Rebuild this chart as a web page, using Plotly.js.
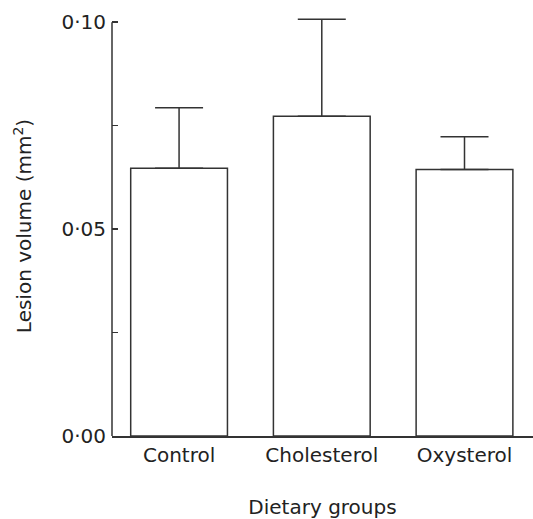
<!DOCTYPE html>
<html>
<head>
<meta charset="utf-8">
<script src="https://cdn.plot.ly/plotly-3.0.1.min.js"></script>
<style>html,body{margin:0;padding:0;background:#fff;}</style>
</head>
<body>
<div id="chart" style="width:533px;height:519px;"></div>
<script>
const categories = ["Control", "Cholesterol", "Oxysterol"];
const meanValues = [0.0647, 0.0773, 0.0644];
const semValues = [0.0146, 0.0234, 0.0079];
const yTickVals = [0, 0.025, 0.05, 0.075, 0.1];
const yTickText = ["0·00", "", "0·05", "", "0·10"];
const yAxisTop = 0.1;

const font = {family: "DejaVu Sans, Liberation Sans, Arial, sans-serif", size: 20, color: "#222"};

const trace = {
  type: "bar",
  x: categories,
  y: meanValues,
  width: 0.678,
  marker: {color: "#ffffff", line: {color: "#333", width: 1.5}},
  error_y: {type: "data", symmetric: false, array: semValues, arrayminus: semValues.map(() => 0),
            color: "#333", thickness: 1.5, width: 24},
  cliponaxis: false,
  hoverinfo: "none"
};

const layout = {
  width: 533, height: 519,
  margin: {l: 112, r: 0, t: 16, b: 83},
  paper_bgcolor: "#fff", plot_bgcolor: "#fff",
  font: font,
  showlegend: false,
  xaxis: {
    type: "category",
    range: [-0.47, 2.48],
    showline: true, linecolor: "#333", linewidth: 1.5,
    ticks: "", showgrid: false, zeroline: false,
    tickfont: font,
    title: {text: "Dietary groups", font: font, standoff: 38}
  },
  yaxis: {
    range: [0, 0.1015],
    showline: false,
    ticks: "inside", ticklen: 6, tickwidth: 1.5, tickcolor: "#333",
    tickvals: yTickVals, ticktext: yTickText,
    showgrid: false, zeroline: false,
    tickfont: font,
    ticklabelstandoff: 5,
    title: {text: "Lesion volume (mm<sup>2</sup>)", font: font, standoff: 24}
  },
  shapes: [{
    type: "line", xref: "paper", yref: "y",
    x0: 0, x1: 0, y0: 0, y1: yAxisTop,
    line: {color: "#333", width: 1.5}
  }]
};

Plotly.newPlot("chart", [trace], layout, {displayModeBar: false, staticPlot: true});
</script>
</body>
</html>
